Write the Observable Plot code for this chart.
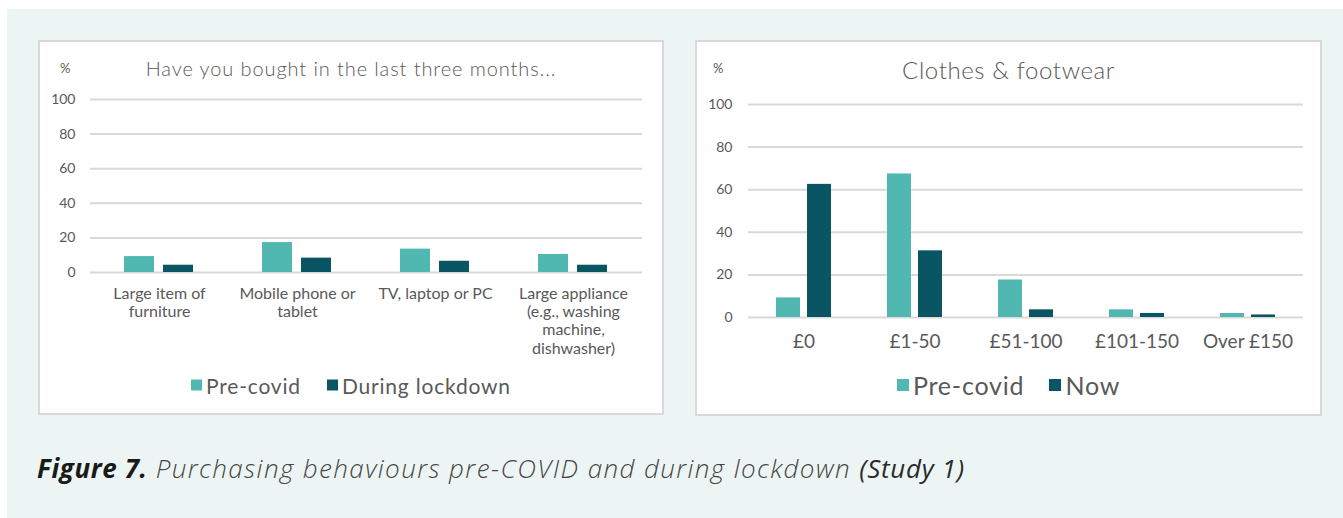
<!DOCTYPE html>
<html>
<head>
<meta charset="utf-8">
<script src="https://cdn.jsdelivr.net/npm/d3@7"></script>
<script src="https://cdn.jsdelivr.net/npm/@observablehq/plot@0.6"></script>
<style>
  html, body { margin: 0; padding: 0; background: #fff; }
  #root { position: relative; width: 1343px; height: 518px; overflow: hidden; background: #fff; font-family: Lato, "Open Sans", sans-serif; color: #595959; }
  .bg { position: absolute; left: 7px; top: 9px; right: 0; bottom: 0; background: #EDF5F4; }
  .panel { position: absolute; background: #fff; border: 2px solid #D9D9D9; }
  .pct { position: absolute; transform: translateY(-50%); font-size: 13px; color: #595959; }
  .title { position: absolute; left: 0; right: 0; text-align: center; transform: translateY(-50%); color: #595959; white-space: nowrap; }
  .legend { position: absolute; left: 0; right: 0; display: flex; justify-content: center; align-items: center; transform: translateY(-50%); color: #595959; white-space: nowrap; }
  .legend .item { display: flex; align-items: center; }
  .legend .sw { display: inline-block; }
  .panel svg { position: absolute; left: 0; top: 0; }
  .caption { position: absolute; left: 37px; top: 468px; transform: translateY(-50%); font-family: "Open Sans", sans-serif; font-style: italic; font-size: 26px; letter-spacing: 1.4px; white-space: nowrap; color: #454545; }
  .caption b { font-weight: 700; color: #1a1a1a; letter-spacing: 0.6px; }
  .caption .light { font-weight: 300; }
  .caption .reg { font-weight: 400; color: #2a2a2a; letter-spacing: 0.7px; }
</style>
</head>
<body>
<div id="root">
  <div class="bg"></div>
  <div class="panel" id="p1" style="left:38px;top:40px;width:622px;height:371px;">
    <div class="pct" style="left:20px;top:26px;">%</div>
    <div class="title" style="top:26px;font-size:20px;font-weight:300;letter-spacing:0.9px;">Have you bought in the last three months...</div>
    <div class="legend" id="leg1" style="top:343px;font-size:21px;letter-spacing:0.8px;"></div>
  </div>
  <div class="panel" id="p2" style="left:695px;top:40px;width:623px;height:372px;">
    <div class="pct" style="left:16px;top:26px;">%</div>
    <div class="title" style="top:27px;font-size:24px;font-weight:300;letter-spacing:0.6px;">Clothes &amp; footwear</div>
    <div class="legend" id="leg2" style="top:343px;font-size:25px;letter-spacing:0.8px;"></div>
  </div>
  <div class="caption"><b>Figure 7.</b><span class="light"> Purchasing behaviours pre-COVID and during lockdown </span><span class="reg">(Study 1)</span></div>
</div>
<script>
// ---- Data ----
const leftCategories = ["Large item of furniture", "Mobile phone or tablet", "TV, laptop or PC", "Large appliance (e.g., washing machine, dishwasher)"];
const leftTickLabels = ["Large item of\nfurniture", "Mobile phone or\ntablet", "TV, laptop or PC", "Large appliance\n(e.g., washing\nmachine,\ndishwasher)"];
const leftSeries = ["Pre-covid", "During lockdown"];
const leftPreCovid = [9.2, 17.3, 13.5, 10.4];
const leftLockdown = [4.2, 8.3, 6.5, 4.2];

const rightCategories = ["£0", "£1-50", "£51-100", "£101-150", "Over £150"];
const rightSeries = ["Pre-covid", "Now"];
const rightPreCovid = [9.2, 67.4, 17.6, 3.6, 1.9];
const rightNow = [62.5, 31.3, 3.6, 1.9, 1.2];

const yTicks = [0, 20, 40, 60, 80, 100];
const seriesColors = ["#50B8B1", "#095563"];

function toRows(categories, series, a, b) {
  const rows = [];
  categories.forEach((c, i) => {
    rows.push({category: c, series: series[0], value: a[i]});
    rows.push({category: c, series: series[1], value: b[i]});
  });
  return rows;
}

function makeChart(opts) {
  const rows = toRows(opts.categories, opts.series, opts.a, opts.b);
  const labelMap = new Map(opts.categories.map((c, i) => [c, opts.tickLabels[i]]));
  return Plot.plot({
    width: opts.width,
    height: opts.height,
    marginLeft: opts.marginLeft,
    marginRight: opts.marginRight,
    marginTop: opts.marginTop,
    marginBottom: opts.marginBottom,
    style: {fontFamily: "Lato, 'Open Sans', sans-serif", color: "#595959", background: "transparent", overflow: "visible"},
    fx: {domain: opts.categories, padding: 0, label: null},
    x: {domain: opts.series, paddingInner: opts.pi, paddingOuter: opts.po, axis: null},
    y: {domain: [0, 100], ticks: yTicks, label: null},
    color: {domain: opts.series, range: seriesColors},
    marks: [
      Plot.gridY(yTicks, {stroke: "#D9D9D9", strokeOpacity: 1, strokeWidth: 2}),
      Plot.barY(rows, {fx: "category", x: "series", y: "value", fill: "series"}),
      Plot.axisY(yTicks, {tickSize: 0, tickPadding: opts.yPad, fontSize: 14, fill: "#595959", label: null}),
      Plot.axisFx({anchor: "bottom", tickSize: 0, tickPadding: opts.fxPad, fontSize: opts.fxFont, lineHeight: opts.lineHeight, fill: "#595959", label: null, tickFormat: (d) => labelMap.get(d)})
    ]
  });
}

function makeLegend(el, series, sw, gap) {
  series.forEach((s, i) => {
    const item = document.createElement("span");
    item.className = "item";
    if (i > 0) item.style.marginLeft = gap + "px";
    const box = document.createElement("span");
    box.className = "sw";
    box.style.width = sw + "px";
    box.style.height = sw + "px";
    box.style.background = seriesColors[i];
    box.style.marginRight = "4px";
    const t = document.createElement("span");
    t.textContent = s;
    item.appendChild(box);
    item.appendChild(t);
    el.appendChild(item);
  });
}

const c1 = makeChart({
  categories: leftCategories, tickLabels: leftTickLabels, series: leftSeries, a: leftPreCovid, b: leftLockdown,
  width: 622, height: 330, marginLeft: 49, marginRight: 19, marginTop: 57, marginBottom: 100,
  pi: 0.225, po: 0.844, yPad: 15, fxPad: 13, fxFont: 16, lineHeight: 1.15
});
document.getElementById("p1").appendChild(c1);

const c2 = makeChart({
  categories: rightCategories, tickLabels: rightCategories, series: rightSeries, a: rightPreCovid, b: rightNow,
  width: 623, height: 315, marginLeft: 50, marginRight: 17, marginTop: 62, marginBottom: 40,
  pi: 0.219, po: 0.847, yPad: 16, fxPad: 14, fxFont: 19, lineHeight: 1.2
});
document.getElementById("p2").appendChild(c2);

makeLegend(document.getElementById("leg1"), leftSeries, 11, 26);
makeLegend(document.getElementById("leg2"), rightSeries, 12, 25);
</script>
</body>
</html>
